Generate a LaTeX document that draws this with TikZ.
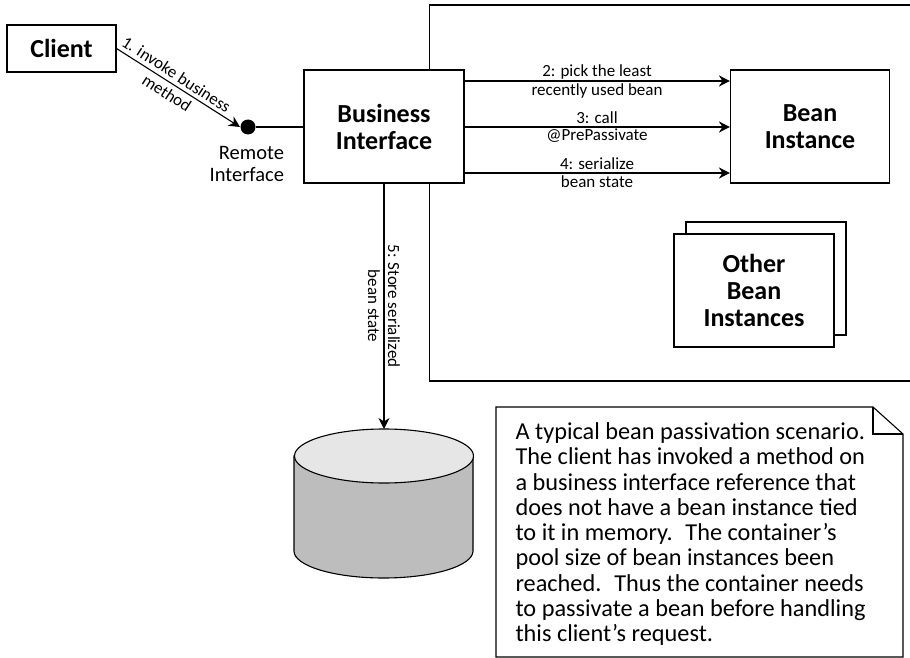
\documentclass[tikz,border=0pt]{standalone}
\usepackage{fontspec}
\setmainfont{Carlito}
\usetikzlibrary{arrows.meta}
\definecolor{dbbody}{HTML}{BDBDBD}
\definecolor{dbtopc}{HTML}{E6E6E6}
\tikzset{
  every path/.style={line width=1.1pt},
  box/.style={draw,fill=white,inner sep=0pt,align=center,font=\fontsize{26}{27}\selectfont\bfseries},
  lbl/.style={inner sep=0pt,align=center,font=\fontsize{17}{18.5}\selectfont},
  arr/.style={-{Stealth[length=11pt,width=11pt,inset=3.5pt]}},
}
\begin{document}
\begin{tikzpicture}[x=1pt,y=-1pt]
\path[use as bounding box,fill=white] (0,0) rectangle (910,658);
% container
\draw (910,5) -- (429.5,5) -- (429.5,381) -- (910,381);
% nodes
\node[box,minimum width=109pt,minimum height=47pt] (client) at (61.5,48.5) {Client};
\node[box,minimum width=160pt,minimum height=113pt] (bi) at (384,126.5) {Business\\Interface};
\node[box,minimum width=159pt,minimum height=113pt] (bean) at (810,126.5) {Bean\\Instance};
\node[box,minimum width=160pt,minimum height=113pt] (otherback) at (766,278.5) {};
\node[box,minimum width=160pt,minimum height=113pt] (other) at (754,290.5) {Other\\Bean\\Instances};
\node[circle,fill=black,inner sep=0pt,minimum size=15pt] (dot) at (248,127) {};
\node[inner sep=0pt,align=right,anchor=north east,font=\fontsize{20.5}{21.5}\selectfont] (remote) at (284.5,146) {Remote\\Interface};
% y levels of the horizontal connectors
\coordinate (y2) at (600,81);
\coordinate (y3) at (600,127);
\coordinate (y4) at (600,173);
\coordinate (dbtop) at (384,429);
% connectors
\draw[arr] (client.east) -- (dot.west);
\draw (dot) -- (bi.west |- dot);
\draw[arr] (bi.east |- y2) -- (bean.west |- y2);
\draw[arr] (bi.east |- y3) -- (bean.west |- y3);
\draw[arr] (bi.east |- y4) -- (bean.west |- y4);
\draw[arr] (bi.south) -- (dbtop);
% connector labels
\node[lbl,rotate=-33] (l1a) at (176.5,74.5) {1. invoke business};
\node[lbl,rotate=-33] (l1b) at (167,93) {method};
\node[lbl] (l2a) at (597,71.5) {2: pick the least};
\node[lbl] (l2b) at (597,91) {recently used bean};
\node[lbl] (l3a) at (597,117.5) {3: call};
\node[lbl] (l3b) at (597,136) {@PrePassivate};
\node[lbl] (l4a) at (597,164) {4: serialize};
\node[lbl] (l4b) at (597,182) {bean state};
\node[lbl,rotate=-90] (l5a) at (394,306) {5: Store serialized};
\node[lbl,rotate=-90] (l5b) at (374,306) {bean state};
% database
\draw[fill=dbbody] (294,456) -- (294,551) arc[start angle=180,end angle=0,x radius=89.5,y radius=27] -- (473,456) -- cycle;
\draw[fill=dbtopc] (384,456) ellipse[x radius=89.5,y radius=27];
% note
\draw[fill=white] (496,657) -- (496,407) -- (873,407) -- (903,434) -- (903,657) -- cycle;
\draw (873,407) -- (873,434) -- (903,434);
\node[inner sep=0pt,align=left,anchor=north west,font=\fontsize{24.3}{25.3}\selectfont] (notetext) at (515,422) {A typical bean passivation scenario.\\The client has invoked a method on\\a business interface reference that\\does not have a bean instance tied\\to it in memory.~ The container’s\\pool size of bean instances been\\reached.~ Thus the container needs\\to passivate a bean before handling\\this client’s request.};
\end{tikzpicture}
\end{document}
